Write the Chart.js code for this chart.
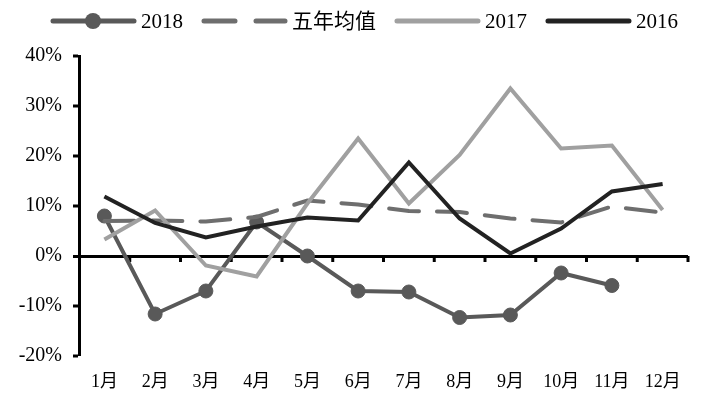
<!DOCTYPE html>
<html>
<head>
<meta charset="utf-8">
<script src="https://cdn.jsdelivr.net/npm/chart.js@4.4.1/dist/chart.umd.min.js"></script>
<style>
  html, body { margin: 0; padding: 0; background: #fff; }
  #wrap { width: 705px; height: 408px; position: relative; }
</style>
</head>
<body>
<div id="wrap"><canvas id="c" width="705" height="408"></canvas></div>
<script>
const categories = ['1月','2月','3月','4月','5月','6月','7月','8月','9月','10月','11月','12月'];
const seriesNames = ['2018','五年均值','2017','2016'];
const values2018 = [8.0, -11.6, -7.0, 6.8, 0.0, -7.0, -7.2, -12.3, -11.8, -3.4, -5.9, null];
const valuesAvg5 = [7.0, 7.1, 6.9, 7.8, 11.1, 10.3, 9.0, 8.8, 7.5, 6.7, 9.9, 8.7];
const values2017 = [3.3, 9.1, -1.9, -4.1, 10.5, 23.5, 10.5, 20.2, 33.5, 21.5, 22.1, 9.2];
const values2016 = [11.9, 6.6, 3.7, 5.9, 7.7, 7.1, 18.7, 7.5, 0.5, 5.5, 12.9, 14.4];
const yTicks = [-20, -10, 0, 10, 20, 30, 40];

const FONT = '"Liberation Serif", "Noto Sans CJK SC", serif';

const zeroTicksPlugin = {
  id: 'zeroTicks',
  beforeDatasetsDraw(chart) {
    const x = chart.scales.x, y = chart.scales.y;
    const ctx = chart.ctx;
    const y0 = y.getPixelForValue(0);
    const half = (x.getPixelForValue(1) - x.getPixelForValue(0)) / 2;
    ctx.save();
    ctx.strokeStyle = '#000';
    ctx.lineWidth = 3;
    for (let i = 0; i < categories.length; i++) {
      const px = x.getPixelForValue(i) + half;
      ctx.beginPath();
      ctx.moveTo(px, y0);
      ctx.lineTo(px, y0 + 6);
      ctx.stroke();
    }
    ctx.restore();
  }
};

const legendPlugin = {
  id: 'customLegend',
  afterDraw(chart) {
    const ctx = chart.ctx;
    const cy = 21;
    let x = 53;
    ctx.save();
    ctx.font = '21px ' + FONT;
    ctx.textBaseline = 'middle';
    chart.data.datasets.forEach(ds => {
      ctx.strokeStyle = ds.borderColor;
      ctx.lineWidth = 5;
      ctx.lineCap = 'round';
      ctx.setLineDash(ds.borderDash ? [31, 21] : []);
      ctx.beginPath();
      ctx.moveTo(x, cy);
      ctx.lineTo(x + 81, cy);
      ctx.stroke();
      ctx.setLineDash([]);
      if (ds.pointRadius > 0) {
        ctx.fillStyle = ds.pointBackgroundColor;
        ctx.beginPath();
        ctx.arc(x + 40, cy, 8, 0, Math.PI * 2);
        ctx.fill();
      }
      x += 81 + 7;
      ctx.fillStyle = '#000';
      ctx.fillText(ds.label, x, cy + 1);
      x += ctx.measureText(ds.label).width + 21;
    });
    ctx.restore();
  }
};

new Chart(document.getElementById('c'), {
  type: 'line',
  data: {
    labels: categories,
    datasets: [
      { label: seriesNames[0], data: values2018, borderColor: '#595959', backgroundColor: '#595959',
        pointBackgroundColor: '#595959', pointBorderColor: '#595959', pointRadius: 7, pointBorderWidth: 1,
        borderWidth: 4, tension: 0, order: 4 },
      { label: seriesNames[1], data: valuesAvg5, borderColor: '#6e6e6e', backgroundColor: '#6e6e6e',
        borderDash: [30, 18], borderCapStyle: 'round', pointRadius: 0, borderWidth: 4, tension: 0, order: 3 },
      { label: seriesNames[2], data: values2017, borderColor: '#a0a0a0', backgroundColor: '#a0a0a0',
        pointRadius: 0, borderWidth: 4, tension: 0, order: 2 },
      { label: seriesNames[3], data: values2016, borderColor: '#222222', backgroundColor: '#222222',
        pointRadius: 0, borderWidth: 4, tension: 0, order: 1 }
    ]
  },
  options: {
    responsive: false,
    animation: false,
    devicePixelRatio: 1,
    layout: { padding: { top: 56, right: 17, left: 0, bottom: 0 } },
    plugins: { legend: { display: false }, tooltip: { enabled: false } },
    scales: {
      x: {
        type: 'category',
        offset: true,
        grid: { display: false, drawTicks: false },
        border: { display: false },
        ticks: { color: '#000', font: { family: FONT, size: 18 }, padding: 15, maxRotation: 0, autoSkip: false },
        afterFit(scale) { scale.height = 52; }
      },
      y: {
        min: -20, max: 40,
        afterBuildTicks(scale) { scale.ticks = yTicks.map(v => ({ value: v })); },
        ticks: { color: '#000', font: { family: FONT, size: 20 }, padding: 11, callback: v => v + '%' },
        grid: {
          color: ctx => (ctx.tick && ctx.tick.value === 0) ? '#000' : 'rgba(0,0,0,0)',
          lineWidth: ctx => (ctx.tick && ctx.tick.value === 0) ? 3 : 0,
          tickColor: '#000', tickWidth: 3, tickLength: 6, drawTicks: true
        },
        border: { display: true, color: '#000', width: 3 },
        afterFit(scale) { scale.width = 79; }
      }
    }
  },
  plugins: [zeroTicksPlugin, legendPlugin]
});
</script>
</body>
</html>
